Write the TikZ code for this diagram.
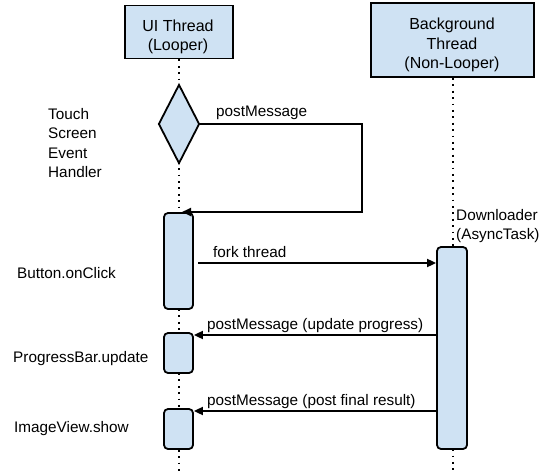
\documentclass[tikz,border=0pt]{standalone}
\usepackage{fontspec}
\setmainfont{Liberation Sans}
\usetikzlibrary{shapes.geometric,arrows.meta,calc}
\definecolor{boxblue}{HTML}{CFE2F3}
\begin{document}
\begin{tikzpicture}[x=1pt,y=-1pt,
  every node/.style={font=\fontsize{15.3}{19.5}\selectfont},
  header/.style={draw,line width=1.8pt,fill=boxblue,inner sep=0pt},
  htext/.style={align=center,inner sep=0pt,font=\fontsize{16}{19.5}\selectfont},
  act/.style={draw,line width=1.8pt,fill=boxblue,rounded corners=4pt,minimum width=29pt,inner sep=0pt},
  life/.style={line width=1.8pt,dash pattern=on 1.8pt off 4.6pt},
  msg/.style={line width=1.8pt,-{Triangle[length=9pt,width=8pt]}},
  lbl/.style={inner sep=0pt,anchor=base west},
  side/.style={inner sep=0pt,anchor=west,align=left}]
\useasboundingbox (0,0) rectangle (549,474);
% headers
\node[header,minimum width=108pt,minimum height=53pt] (ui) at (179,32) {};
\node[htext] (uit) at (178,37) {UI Thread\\(Looper)};
\node[header,minimum width=163pt,minimum height=74pt] (bg) at (452.5,40) {};
\node[htext] (bgt) at (452,45) {Background\\Thread\\(Non-Looper)};
% lifelines
\coordinate (uiend) at (179,474);
\coordinate (bgend) at (453,474);
\draw[life] (ui.south) -- (uiend);
\draw[life] (bg.south -| bgend) -- (bgend);
% diamond
\node[draw,line width=1.8pt,fill=boxblue,shape=diamond,aspect=0.52,minimum width=41pt,minimum height=79pt,inner sep=0pt] (d) at (179,124) {};
% activations
\node[act,minimum height=96pt] (a1) at (178.5,261) {};
\node[act,minimum height=40pt] (a2) at (178.5,353) {};
\node[act,minimum height=40pt] (a3) at (178.5,429) {};
\node[act,minimum width=30pt,minimum height=202pt] (b1) at (452,348) {};
% messages
\coordinate (loopR) at (362,124);
\coordinate (loopE) at (182,212);
\draw[msg] (d.east) -- (loopR) |- (loopE);
\node[lbl] (l1) at (216,116) {postMessage};
\coordinate (f1) at (198,263);
\draw[msg] (f1) -- (f1 -| b1.west);
\node[lbl] (l2) at (213,257) {fork thread};
\coordinate (m1) at (437,335);
\draw[msg] (m1) -- (m1 -| a2.east);
\node[lbl] (l3) at (207,329) {postMessage (update progress)};
\coordinate (m2) at (437,411);
\draw[msg] (m2) -- (m2 -| a3.east);
\node[lbl] (l4) at (207,405) {postMessage (post final result)};
% side labels
\node[side] (dl) at (456,226) {Downloader\\(AsyncTask)};
\node[side] (t) at (48,143) {Touch\\Screen\\Event\\Handler};
\node[side] (bc) at (17,273) {Button.onClick};
\node[side] (pb) at (13,359) {ProgressBar.update};
\node[side] (iv) at (14,429) {ImageView.show};
\end{tikzpicture}
\end{document}
